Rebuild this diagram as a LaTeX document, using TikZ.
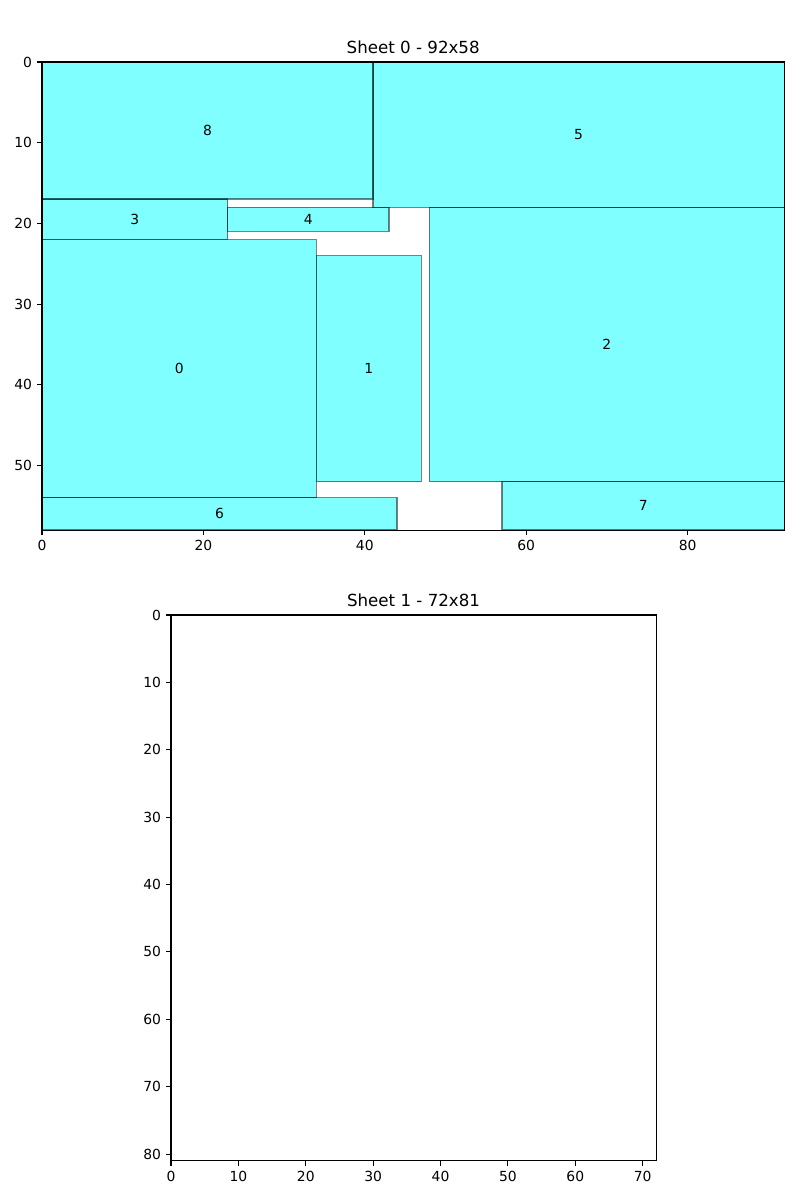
\documentclass[tikz,border=0pt]{standalone}
\usepackage{fontspec}
\setmainfont{DejaVu Sans}
\definecolor{mplcyan}{RGB}{0,255,255}
\tikzset{
  piece/.style={fill=mplcyan, fill opacity=0.5, draw=black, draw opacity=0.5, line width=1pt},
  spine/.style={draw=black, line width=0.8pt},
  tickline/.style={draw=black, line width=0.8pt},
  ticklab/.style={font=\fontsize{10}{12}\selectfont, inner sep=0pt},
  plabel/.style={font=\fontsize{10}{12}\selectfont, inner sep=0pt, anchor=center},
  ptitle/.style={font=\fontsize{12}{14}\selectfont, inner sep=0pt, anchor=base},
}
\begin{document}
\begin{tikzpicture}[x=0.72pt,y=-0.72pt]
\useasboundingbox (0,0) rectangle (800,1200);
% ---------------- Sheet 0 ----------------
\begin{scope}[shift={(42,62)}, x=5.8104pt, y=-5.8104pt]
  \draw[piece] (0,22) rectangle (34,54);
  \node[plabel] (l0) at (17,38) {0};
  \draw[piece] (34,24) rectangle (47,52);
  \node[plabel] (l1) at (40.5,38) {1};
  \draw[piece] (48,18) rectangle (92,52);
  \node[plabel] (l2) at (70,35) {2};
  \draw[piece] (0,17) rectangle (23,22);
  \node[plabel] (l3) at (11.5,19.5) {3};
  \draw[piece] (23,18) rectangle (43,21);
  \node[plabel] (l4) at (33,19.5) {4};
  \draw[piece] (41,0) rectangle (92,18);
  \node[plabel] (l5) at (66.5,9) {5};
  \draw[piece] (0,54) rectangle (44,58);
  \node[plabel] (l6) at (22,56) {6};
  \draw[piece] (57,52) rectangle (92,58);
  \node[plabel] (l7) at (74.5,55) {7};
  \draw[piece] (0,0) rectangle (41,17);
  \node[plabel] (l8) at (20.5,8.5) {8};
  \draw[spine] (0,0) rectangle (92,58);
  \foreach \v [count=\i] in {0,10,20,30,40,50} {
    \coordinate (ya\i) at (0,\v);
    \draw[tickline] (ya\i) -- ++(-3.5pt,0);
    \node[ticklab, anchor=east, xshift=-7pt] (yla\i) at (ya\i) {\v};
  }
  \foreach \v [count=\i] in {0,20,40,60,80} {
    \coordinate (xa\i) at (\v,58);
    \draw[tickline] (xa\i) -- ++(0,-3.5pt);
    \node[ticklab, anchor=north, yshift=-7pt] (xla\i) at (xa\i) {\v};
  }
  \node[ptitle, yshift=6pt] (ta) at (46,0) {Sheet 0 - 92x58};
\end{scope}
% ---------------- Sheet 1 ----------------
\begin{scope}[shift={(171,615)}, x=4.8514pt, y=-4.8514pt]
  \draw[spine] (0,0) rectangle (72,81);
  \foreach \v [count=\i] in {0,10,20,30,40,50,60,70,80} {
    \coordinate (yb\i) at (0,\v);
    \draw[tickline] (yb\i) -- ++(-3.5pt,0);
    \node[ticklab, anchor=east, xshift=-7pt] (ylb\i) at (yb\i) {\v};
  }
  \foreach \v [count=\i] in {0,10,20,30,40,50,60,70} {
    \coordinate (xb\i) at (\v,81);
    \draw[tickline] (xb\i) -- ++(0,-3.5pt);
    \node[ticklab, anchor=north, yshift=-7pt] (xlb\i) at (xb\i) {\v};
  }
  \node[ptitle, yshift=6pt] (tb) at (36,0) {Sheet 1 - 72x81};
\end{scope}
\end{tikzpicture}
\end{document}
